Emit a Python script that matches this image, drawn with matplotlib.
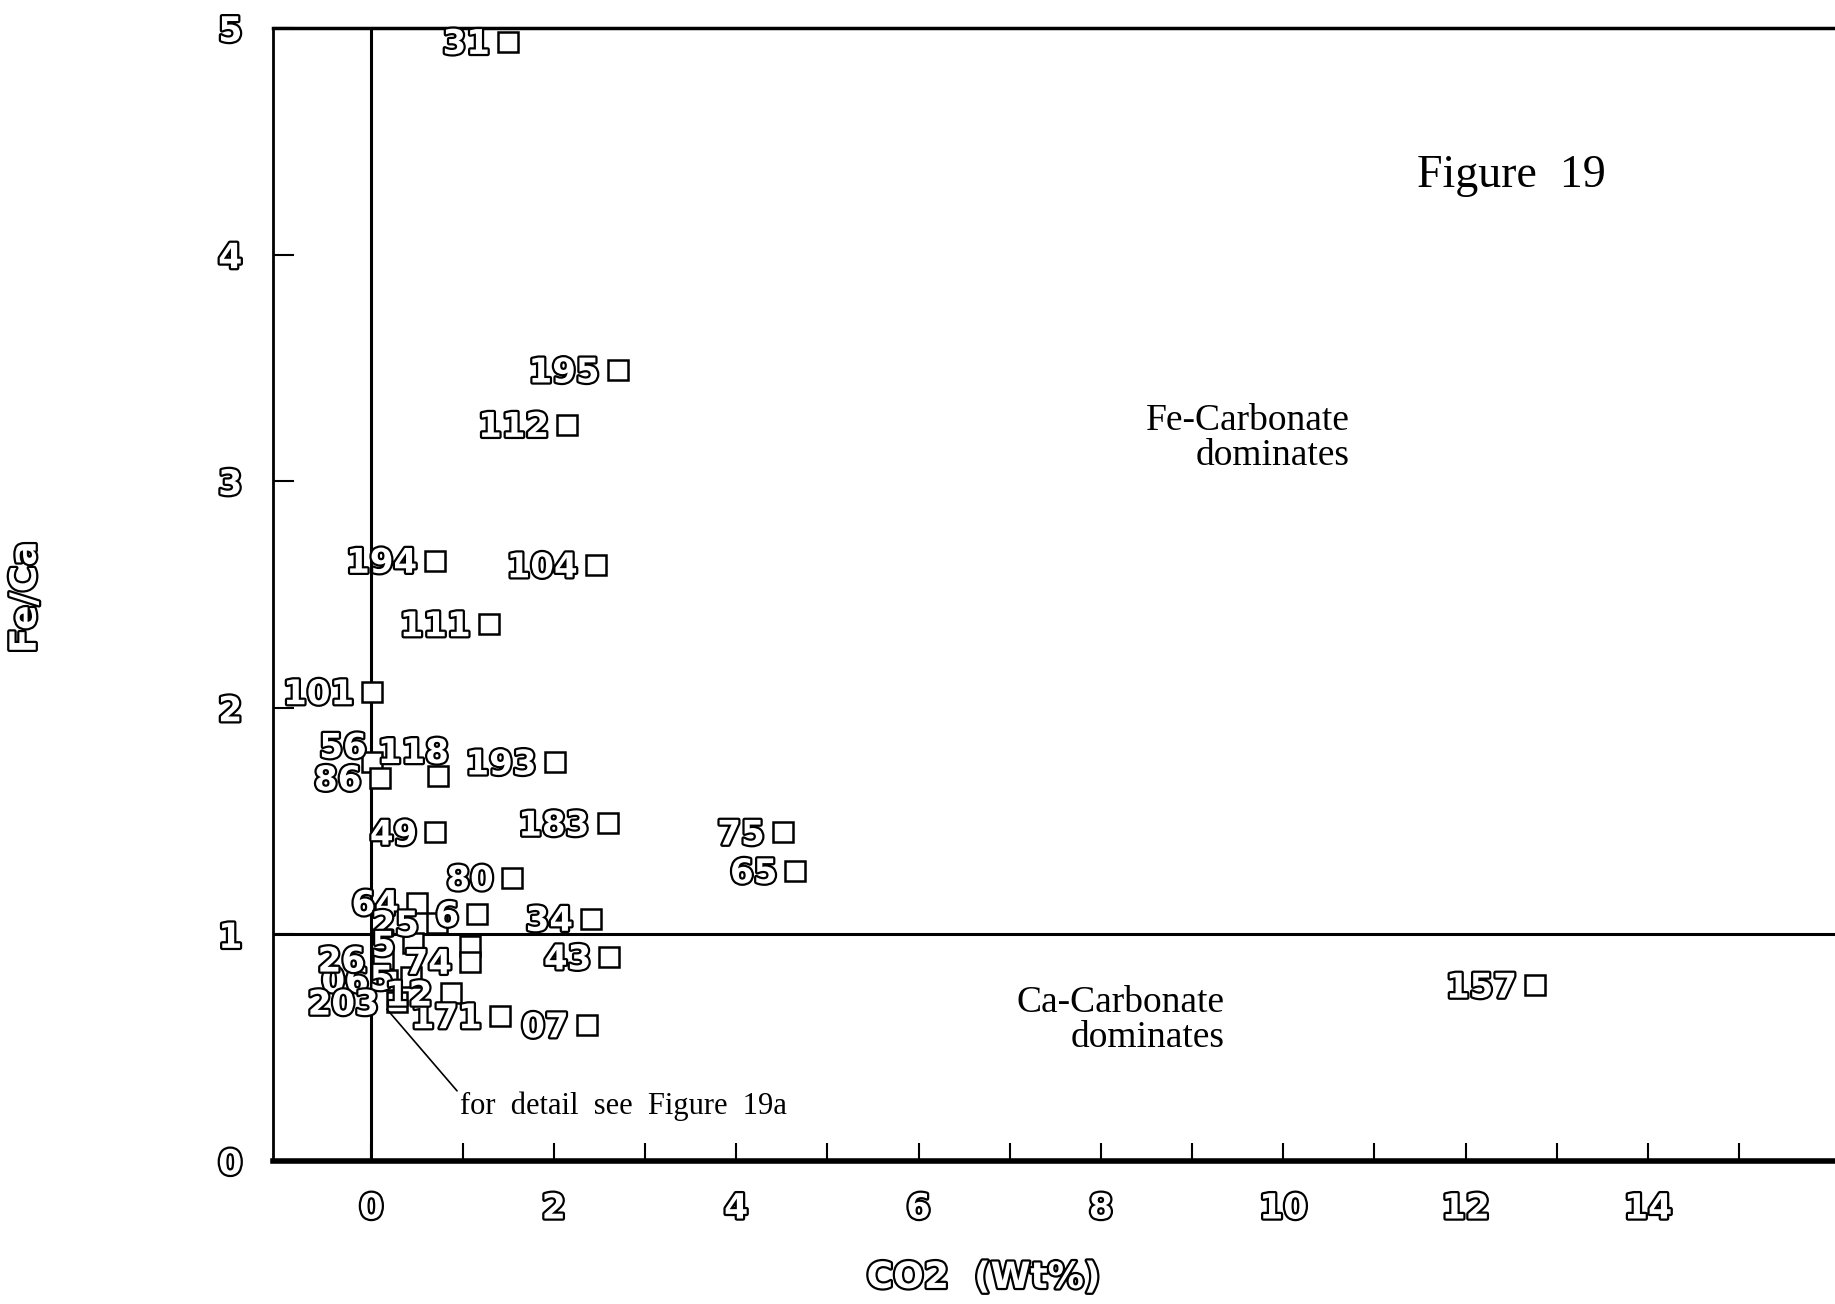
# Fe/Ca vs CO2 scatter, Figure 19 - sample numbers written beside each point
import numpy as np
import matplotlib
matplotlib.use('Agg')
import matplotlib.pyplot as plt
import matplotlib.patheffects as pe

# sample labels, CO2 (wt%) and Fe/Ca
labels = ['31', '195', '112', '194', '104', '111', '101', '56', '86', '118',
          '193', '183', '49', '75', '65', '80', '34', '43', '157', '171', '07',
          '64', '25', '6', '', '5', '06', '26', '74', '5', '12', '203']
co2 = [1.50, 2.70, 2.15, 0.70, 2.46, 1.29, 0.01, 0.01, 0.09, 0.73,
       2.01, 2.59, 0.70, 4.51, 4.65, 1.54, 2.41, 2.61, 12.76, 1.41, 2.36,
       0.50, 0.72, 1.16, 1.08, 0.46, 0.17, 0.13, 1.08, 0.44, 0.87, 0.28]
fe_ca = [4.94, 3.49, 3.25, 2.65, 2.63, 2.37, 2.07, 1.76, 1.69, 1.70,
         1.76, 1.49, 1.45, 1.45, 1.28, 1.25, 1.07, 0.90, 0.775, 0.64, 0.60,
         1.14, 1.05, 1.09, 0.95, 0.96, 0.80, 0.89, 0.88, 0.81, 0.74, 0.70]

xticks = list(range(0, 16))
xticklabels = [str(t) if t % 2 == 0 else '' for t in xticks]
yticks = [0, 1, 2, 3, 4, 5]

# labels that sit above their square rather than beside it (points offset)
nudge = {'56': (-4, 10), '118': (8, 16)}

outline = [pe.Stroke(linewidth=3.2, foreground='black'), pe.Normal()]
hollow = dict(color='white', fontweight='bold', family='DejaVu Sans', path_effects=outline)
serif = ['Liberation Serif', 'DejaVu Serif']

fig = plt.figure(figsize=(18.35, 13.04), dpi=100)
ax = fig.add_axes([0.1487, 0.1097, 0.8513, 0.8688])
ax.set_xlim(-1.08, 16.05)
ax.set_ylim(0, 5)

ax.axvline(0, color='black', lw=2.2, zorder=1)
ax.axhline(1, color='black', lw=2.2, zorder=1)

for x, y, lab in zip(co2, fe_ca, labels):
    ax.plot(x, y, marker='s', ms=14, mfc='white', mec='black', mew=1.8,
            ls='none', zorder=3, clip_on=False)
    if lab:
        dx, dy = nudge.get(lab, (-13, -2))
        ax.annotate(lab, (x, y), xytext=(dx, dy), textcoords='offset points',
                    ha='right', va='center', fontsize=24.5, zorder=4, **hollow)

ax.annotate('for  detail  see  Figure  19a', xy=(0.17, 0.67), xytext=(0.97, 0.243),
            ha='left', va='center', fontsize=22, family=serif,
            arrowprops=dict(arrowstyle='-', lw=1.2, color='black',
                            shrinkA=0, shrinkB=0, relpos=(0, 0.9)))

ax.text(12.5, 4.35, 'Figure  19', ha='center', va='center', fontsize=33, family=serif)
ax.text(10.73, 3.19, 'Fe-Carbonate\ndominates', ha='right', va='center',
        fontsize=27, family=serif, linespacing=1.0)
ax.text(9.36, 0.62, 'Ca-Carbonate\ndominates', ha='right', va='center',
        fontsize=27, family=serif, linespacing=1.0)

ax.set_xticks(xticks)
ax.set_xticklabels(xticklabels)
ax.set_yticks(yticks)
ax.set_yticklabels([str(t) for t in yticks])
ax.tick_params(axis='x', direction='in', length=13, width=1.5, pad=22)
ax.tick_params(axis='y', direction='in', length=15, width=1.5, pad=22)
for t in ax.get_xticklabels() + ax.get_yticklabels():
    t.set_fontsize(25)
    t.set_color('white')
    t.set_fontweight('bold')
    t.set_path_effects(outline)

ax.spines['right'].set_visible(False)
ax.spines['bottom'].set_linewidth(4)
ax.spines['top'].set_linewidth(2.5)
ax.spines['left'].set_linewidth(2)

fig.text(0.014, 0.542, 'Fe/Ca', rotation=90, ha='center', va='center',
         fontsize=26, **hollow)
fig.text(0.536, 0.020, 'CO2  (Wt%)', ha='center', va='center',
         fontsize=26, **hollow)

fig.savefig('out.png', dpi=100, facecolor='white')
